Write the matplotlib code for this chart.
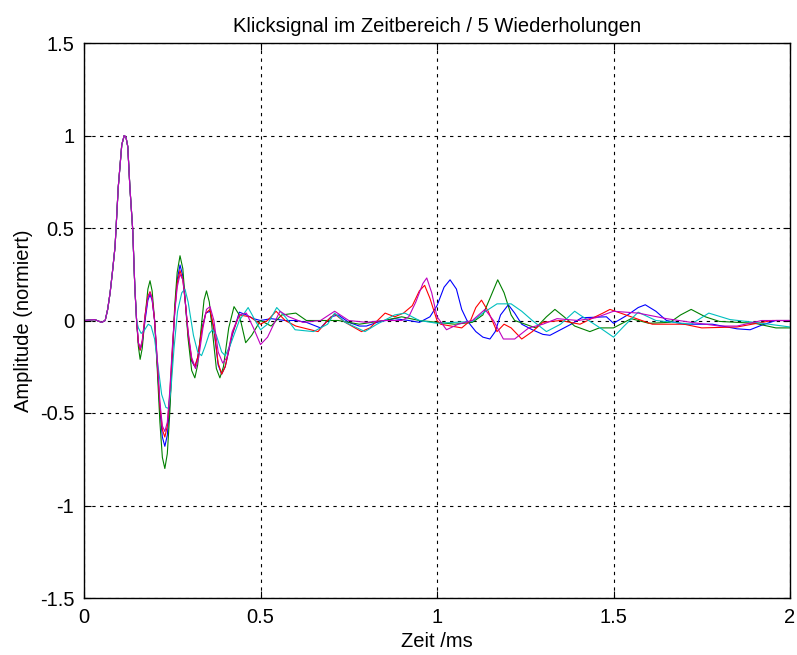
import matplotlib.pyplot as plt

plt.rcParams['font.family'] = ['Liberation Sans', 'DejaVu Sans']
plt.rcParams['axes.unicode_minus'] = False

# Data, time in ms, amplitude normalised
t_head = [0, 0.03, 0.05, 0.06, 0.067, 0.074, 0.081, 0.088, 0.097, 0.107, 0.114,
          0.119, 0.124, 0.130, 0.138, 0.144, 0.149]
a_head = [0, 0.005, -0.01, 0.0, 0.06, 0.15, 0.27, 0.40, 0.72, 0.95, 1.0,
          0.99, 0.94, 0.72, 0.49, 0.18, 0.0]

t_blue = [0.154, 0.159, 0.165, 0.173, 0.181, 0.187, 0.193, 0.200, 0.208, 0.215, 0.222,
          0.229, 0.236, 0.243, 0.250, 0.257, 0.264, 0.272, 0.280, 0.287, 0.295, 0.305,
          0.314, 0.322, 0.333, 0.345, 0.357, 0.368, 0.380, 0.39, 0.40, 0.42, 0.44,
          0.46, 0.48, 0.50, 0.53, 0.57, 0.60, 0.63, 0.67, 0.70, 0.72, 0.75, 0.78,
          0.80, 0.83, 0.88, 0.92, 0.95, 0.98, 1.00, 1.02, 1.037, 1.055, 1.07, 1.085,
          1.11, 1.13, 1.15, 1.165, 1.18, 1.202, 1.22, 1.24, 1.27, 1.30, 1.32, 1.35,
          1.38, 1.41, 1.48, 1.50, 1.54, 1.57, 1.59, 1.62, 1.65, 1.70, 1.78, 1.85,
          1.887, 1.92, 1.96, 2.0]
a_blue = [-0.12, -0.16, -0.12, 0.0, 0.11, 0.14, 0.11, 0.0, -0.25, -0.48, -0.63,
          -0.68, -0.62, -0.45, -0.2, 0.05, 0.22, 0.30, 0.24, 0.1, -0.08, -0.22,
          -0.25, -0.2, -0.05, 0.04, 0.05, -0.05, -0.24, -0.29, -0.25, -0.08, 0.045,
          0.03, 0.01, 0.0, 0.01, 0.0, 0.0, -0.01, -0.04, 0.02, 0.03, -0.01, -0.03,
          -0.03, -0.01, 0.01, 0.0, -0.01, 0.02, 0.08, 0.18, 0.22, 0.17, 0.06, 0.0,
          -0.06, -0.09, -0.1, -0.06, 0.03, 0.085, 0.04, -0.02, -0.05, -0.075, -0.08, -0.05,
          -0.02, 0.015, 0.02, -0.015, 0.03, 0.07, 0.085, 0.05, 0.0, -0.02, -0.02, -0.045,
          -0.05, -0.025, 0.0, 0.0]

t_green = [0.154, 0.159, 0.165, 0.173, 0.181, 0.187, 0.193, 0.200, 0.208, 0.215, 0.222,
           0.229, 0.236, 0.243, 0.250, 0.257, 0.264, 0.272, 0.280, 0.287, 0.295, 0.305,
           0.314, 0.322, 0.333, 0.340, 0.347, 0.355, 0.365, 0.375, 0.385, 0.395, 0.41,
           0.425, 0.44, 0.458, 0.475, 0.50, 0.53, 0.56, 0.60, 0.63, 0.67, 0.72, 0.78,
           0.85, 0.90, 0.95, 1.0, 1.05, 1.1, 1.13, 1.15, 1.172, 1.19, 1.21, 1.22,
           1.25, 1.28, 1.31, 1.334, 1.36, 1.39, 1.433, 1.46, 1.50, 1.55, 1.60, 1.66,
           1.69, 1.72, 1.76, 1.80, 1.9, 1.96, 2.0]
a_green = [-0.14, -0.21, -0.15, 0.02, 0.17, 0.215, 0.16, 0.0, -0.28, -0.55, -0.74,
           -0.80, -0.72, -0.5, -0.2, 0.08, 0.26, 0.35, 0.28, 0.1, -0.1, -0.27,
           -0.31, -0.24, -0.02, 0.11, 0.16, 0.10, -0.08, -0.26, -0.31, -0.25, -0.04,
           0.075, 0.03, -0.12, -0.08, 0.0, -0.03, 0.03, 0.04, 0.0, 0.0, 0.0, -0.02,
           0.0, 0.02, 0.0, -0.01, -0.02, -0.01, 0.03, 0.12, 0.22, 0.15, 0.03, 0.0,
           -0.02, -0.04, 0.02, 0.06, 0.02, -0.03, -0.06, -0.04, -0.04, 0.01, -0.015, -0.01,
           0.03, 0.06, 0.02, -0.005, -0.015, -0.04, -0.04]

t_red = [0.154, 0.159, 0.165, 0.173, 0.181, 0.187, 0.193, 0.200, 0.208, 0.215, 0.222,
         0.229, 0.236, 0.243, 0.250, 0.257, 0.264, 0.272, 0.280, 0.287, 0.295, 0.305,
         0.314, 0.322, 0.333, 0.345, 0.357, 0.368, 0.380, 0.39, 0.40, 0.42, 0.44,
         0.47, 0.50, 0.52, 0.544, 0.57, 0.60, 0.663, 0.69, 0.71, 0.74, 0.786, 0.81,
         0.853, 0.88, 0.905, 0.93, 0.95, 0.965, 0.98, 1.0, 1.01, 1.04, 1.07, 1.095,
         1.11, 1.126, 1.145, 1.17, 1.19, 1.21, 1.24, 1.27, 1.30, 1.35, 1.405, 1.47,
         1.49, 1.55, 1.61, 1.70, 1.75, 1.85, 1.95, 2.0]
a_red = [-0.12, -0.16, -0.11, 0.03, 0.13, 0.156, 0.12, 0.0, -0.24, -0.46, -0.59,
         -0.63, -0.57, -0.4, -0.17, 0.05, 0.2, 0.27, 0.22, 0.1, -0.07, -0.21,
         -0.25, -0.2, -0.06, 0.04, 0.06, -0.04, -0.23, -0.29, -0.25, -0.07, 0.03,
         0.02, -0.02, 0.0, 0.05, 0.0, -0.03, -0.06, 0.0, 0.035, -0.01, -0.06, -0.04,
         0.04, 0.02, 0.04, 0.08, 0.16, 0.19, 0.12, 0.0, -0.02, -0.03, -0.04, 0.0,
         0.07, 0.11, 0.05, -0.06, -0.02, -0.04, -0.1, -0.06, -0.01, 0.0, -0.02, 0.04,
         0.06, 0.02, -0.02, -0.02, -0.04, -0.035, 0.0, 0.0]

t_cyan = [0.154, 0.162, 0.172, 0.182, 0.19, 0.20, 0.21, 0.22, 0.232, 0.239, 0.246,
          0.255, 0.265, 0.277, 0.286, 0.295, 0.31, 0.322, 0.333, 0.343, 0.355, 0.364,
          0.375, 0.39, 0.40, 0.415, 0.44, 0.465, 0.485, 0.50, 0.52, 0.546, 0.57,
          0.598, 0.65, 0.69, 0.71, 0.74, 0.796, 0.83, 0.88, 0.909, 0.95, 1.0, 1.05,
          1.10, 1.13, 1.17, 1.21, 1.24, 1.27, 1.31, 1.35, 1.39, 1.405, 1.462, 1.50,
          1.53, 1.57, 1.62, 1.72, 1.77, 1.83, 1.9, 2.0]
a_cyan = [-0.04, -0.07, -0.05, -0.02, -0.03, -0.1, -0.25, -0.4, -0.47, -0.475, -0.38,
          -0.15, 0.05, 0.15, 0.17, 0.1, -0.08, -0.17, -0.19, -0.14, -0.07, -0.05,
          -0.08, -0.17, -0.19, -0.13, 0.0, 0.07, 0.0, -0.05, -0.02, 0.07, 0.02,
          -0.05, -0.06, -0.02, 0.04, -0.01, -0.06, -0.02, 0.03, 0.04, 0.0, -0.015, -0.01,
          -0.005, 0.04, 0.09, 0.09, 0.05, 0.0, -0.06, -0.02, 0.05, 0.03, -0.04, -0.09,
          -0.03, 0.045, 0.0, -0.02, 0.04, 0.005, -0.01, -0.035]

t_magenta = [0.154, 0.159, 0.165, 0.173, 0.181, 0.187, 0.193, 0.200, 0.208, 0.215, 0.222,
             0.229, 0.236, 0.243, 0.250, 0.257, 0.264, 0.272, 0.280, 0.287, 0.295, 0.305,
             0.316, 0.325, 0.337, 0.347, 0.357, 0.368, 0.380, 0.393, 0.405, 0.42, 0.44,
             0.46, 0.48, 0.50, 0.52, 0.555, 0.58, 0.62, 0.67, 0.71, 0.75, 0.80, 0.85,
             0.90, 0.92, 0.94, 0.96, 0.971, 0.985, 1.0, 1.027, 1.06, 1.10, 1.136, 1.16,
             1.188, 1.22, 1.26, 1.30, 1.34, 1.40, 1.45, 1.50, 1.57, 1.65, 1.72, 1.80,
             1.85, 1.92, 2.0]
a_magenta = [-0.12, -0.15, -0.11, 0.02, 0.12, 0.15, 0.12, 0.0, -0.22, -0.44, -0.57,
             -0.60, -0.55, -0.38, -0.15, 0.04, 0.18, 0.25, 0.22, 0.1, -0.06, -0.2,
             -0.26, -0.2, -0.04, 0.06, 0.075, 0.0, -0.17, -0.23, -0.2, -0.06, 0.03,
             0.04, -0.04, -0.13, -0.09, 0.05, 0.02, -0.01, 0.0, 0.05, 0.0, -0.01, 0.0,
             0.0, 0.02, 0.1, 0.2, 0.23, 0.15, 0.02, -0.05, -0.02, 0.0, 0.06, 0.0,
             -0.1, -0.1, -0.04, -0.02, 0.01, 0.0, 0.015, 0.05, 0.04, 0.01, -0.01, -0.03,
             -0.03, 0.0, 0.0]

series = [
    (t_blue, a_blue, (0, 0, 1)),
    (t_green, a_green, (0, 0.5, 0)),
    (t_red, a_red, (1, 0, 0)),
    (t_cyan, a_cyan, (0, 0.75, 0.75)),
    (t_magenta, a_magenta, (0.75, 0, 0.75)),
]

fig = plt.figure(figsize=(7.97, 6.55), dpi=100)
ax = fig.add_axes([84 / 797, 57 / 655, 706 / 797, 555 / 655])

for t, a, col in series:
    ax.plot(t_head + t, a_head + a, color=col, linewidth=0.8)

ax.set_xlim(0, 2)
ax.set_ylim(-1.5, 1.5)
ax.set_xticks([0, 0.5, 1, 1.5, 2])
ax.set_xticklabels(['0', '0.5', '1', '1.5', '2'])
ax.set_yticks([-1.5, -1, -0.5, 0, 0.5, 1, 1.5])
ax.set_yticklabels(['-1.5', '-1', '-0.5', '0', '0.5', '1', '1.5'])
ax.grid(True, color='black', linestyle=(0, (3, 4)), linewidth=0.8)
ax.tick_params(direction='in', top=True, right=True, length=5, labelsize=14.5,
               pad=7)
for s in ax.spines.values():
    s.set_linewidth(1.0)

ax.set_title('Klicksignal im Zeitbereich / 5 Wiederholungen', fontsize=14.5, pad=8)
ax.set_xlabel('Zeit /ms', fontsize=14.5, labelpad=4)
ax.set_ylabel('Amplitude (normiert)', fontsize=14.5, labelpad=5)

fig.savefig('out.png', dpi=100, facecolor='white')
